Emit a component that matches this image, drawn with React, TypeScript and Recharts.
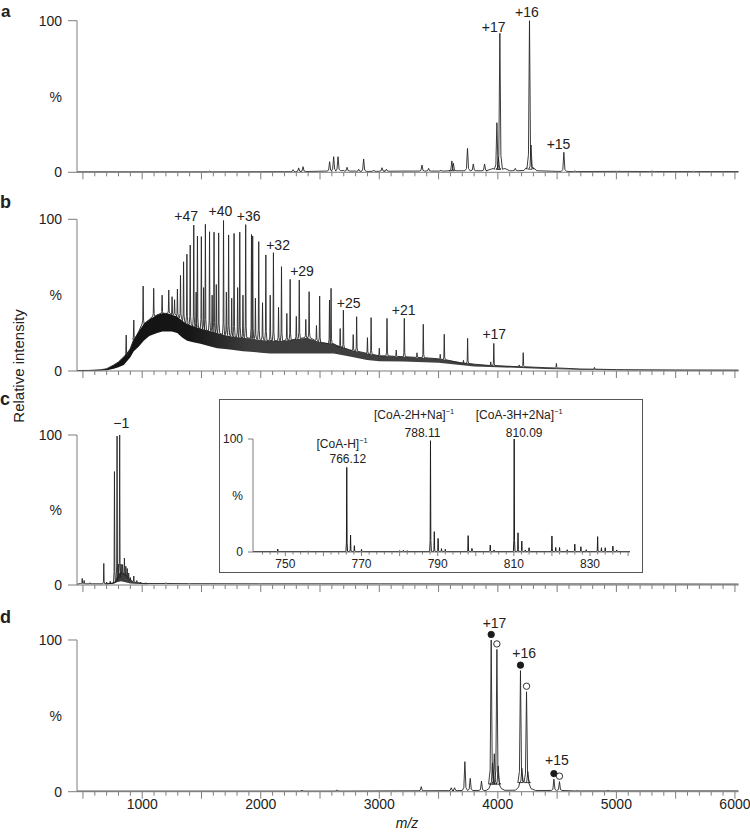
import React from 'react';
import { Area, ComposedChart, Line, ReferenceDot, Scatter, XAxis, YAxis } from 'recharts';

type Pt = [number, number];
type Pk = [number, number, number]; // m/z, apex %, local base %
type Lb = [number, number, string, string?]; // m/z, y %, text, superscript

const FONT = '"Liberation Sans", Arial, Helvetica, sans-serif';
const INK = '#1c1c1c';
const AXIS = '#7d7d7d';
const TEXT = '#222';

const MZ_MIN = 450;
const MZ_MAX = 6030;
const mzTicks = Array.from({ length: 56 }, (_, i) => 500 + i * 100);
const mzTickLabels = [1000, 2000, 3000, 4000, 5000, 6000];

const INSET_MIN = 741.5;
const INSET_MAX = 840.5;
const insetTicks = Array.from({ length: 49 }, (_, i) => 744 + i * 2);
const insetTickLabels = [750, 770, 790, 810, 830];

// ---- panel a
const baseA: Pt[] = [
  [450, 0.3], [1500, 0.3], [2200, 0.4], [2550, 0.8], [2700, 1.2], [2800, 0.8], [3200, 0.8],
  [3600, 1], [3900, 1], [3960, 2.5], [4060, 2.5], [4100, 1], [4220, 1.2], [4240, 3], [4300, 3],
  [4330, 1], [4500, 0.6], [5000, 0.6], [6030, 0.5],
];
const peaksA: Pk[] = [
  [1570, 0.9, 0.3], [2273, 1.7, 0.4], [2320, 2.9, 0.5], [2357, 3.7, 0.5], [2581, 7, 0.8],
  [2615, 10.3, 1], [2652, 10.3, 1], [2728, 3.3, 0.8], [2826, 2, 0.6], [2868, 8.8, 0.6],
  [2952, 1.5, 0.6], [3023, 3, 0.7], [3060, 2, 0.7], [3360, 4.8, 0.8], [3416, 2.6, 0.8],
  [3520, 1.3, 0.8], [3612, 7.5, 1], [3625, 6, 1], [3744, 15.8, 1], [3793, 5.5, 1], [3888, 5.5, 1],
  [3992, 32.7, 2], [4005, 10, 2], [4017, 91.7, 2], [4147, 2.6, 1], [4267, 100, 2], [4280, 18, 2],
  [4557, 13.2, 0.6], [4650, 0.9, 0.5], [5300, 0.8, 0.5], [5650, 0.7, 0.5],
];
const labelsA: Lb[] = [[3964, 96, '+17'], [4245, 105.5, '+16'], [4512, 18.7, '+15']];

// ---- panel b
const bandB: [number, number, number][] = [
  [450, 0, 0.3], [550, 0.1, 0.4], [650, 0.3, 0.8], [700, 0.5, 1.5], [760, 1.5, 4], [800, 2.5, 6],
  [845, 4, 9.4], [900, 9, 15], [929, 13, 21], [970, 16, 26], [1013, 20, 31], [1060, 23, 34],
  [1126, 25, 37], [1170, 26, 38], [1210, 26, 38], [1250, 26, 37], [1295, 25, 36], [1340, 22, 33],
  [1379, 20, 31], [1430, 19, 29.5], [1491, 18, 28], [1560, 16.5, 26.5], [1632, 15, 25],
  [1700, 14.5, 23.5], [1772, 13.8, 22.6], [1850, 13, 22], [1913, 12.7, 21.5], [2000, 12, 20.5],
  [2081, 11.6, 20], [2193, 11.6, 20], [2300, 11.5, 21], [2390, 11.6, 22], [2500, 11.6, 19],
  [2615, 11.6, 18], [2750, 9.5, 14], [2896, 7.3, 11.6], [3000, 6.5, 10], [3200, 6.2, 9.4],
  [3500, 5.5, 8], [3800, 3, 4.5], [4000, 2.5, 3.5], [4400, 1.3, 2.2], [4700, 0.8, 1.3],
  [5000, 0.5, 0.9], [5500, 0.4, 0.7], [6030, 0.3, 0.6],
];
const peaksB: Pk[] = [
  [865, 23.7, 10], [929, 33.6, 21], [1008, 56, 31], [1097, 54.5, 36], [1168, 50, 38],
  [1224, 53.4, 38], [1252, 49, 37], [1273, 47, 37], [1297, 54, 36], [1323, 63, 35], [1349, 72, 33],
  [1377, 77, 31.5], [1405, 83, 30.5], [1435, 96.2, 29.5], [1455, 52, 29], [1466, 89, 28.5],
  [1499, 88.6, 28], [1518, 55, 27.5], [1533, 96.7, 27], [1568, 91.8, 26.5], [1590, 50, 26],
  [1606, 91.5, 25.5], [1625, 57, 25], [1645, 91, 25], [1686, 99.2, 24], [1710, 52, 24],
  [1729, 89.7, 23.5], [1755, 48, 23], [1775, 90.7, 22.6], [1805, 55, 22.4], [1823, 91.5, 22.2],
  [1850, 50, 22], [1873, 96.5, 22], [1922, 90, 21.5], [1932, 89, 21.5], [1955, 48, 21.3],
  [1983, 85.3, 21], [2015, 45, 20.7], [2043, 76.5, 20.3], [2080, 50, 20], [2107, 78, 20],
  [2150, 42, 20], [2175, 68.8, 20], [2220, 38, 20.3], [2248, 60.4, 20.5], [2300, 36, 21],
  [2325, 60, 21.5], [2380, 34, 22], [2408, 52.3, 22], [2470, 30, 20], [2497, 49.4, 19],
  [2580, 46.8, 18], [2593, 54.5, 18], [2670, 28, 15.5], [2697, 40.2, 15], [2780, 24, 13.5],
  [2809, 35.8, 13], [2900, 22, 11.5], [2931, 35.2, 11], [3000, 15, 10], [3065, 34.7, 10],
  [3143, 13.8, 9.6], [3211, 34.7, 9.4], [3318, 12, 9], [3371, 30.8, 8.8], [3514, 11, 7.8],
  [3548, 24.2, 7.5], [3710, 7, 5], [3745, 21.5, 5], [3940, 6, 3.6], [3966, 18.2, 3.6],
  [4180, 4, 2.8], [4214, 12.1, 2.8], [4494, 5, 2], [4815, 2.4, 1.2], [5186, 1.3, 0.8],
];
const labelsB: Lb[] = [
  [1371, 102.2, '+47'], [1660, 105.7, '+40'], [1898, 102.2, '+36'], [2146, 82.9, '+32'],
  [2348, 66.1, '+29'], [2741, 45, '+25'], [3205, 40.2, '+21'], [3970, 24.4, '+17'],
];

// ---- panel c
const baseC: Pt[] = [
  [450, 0.5], [480, 1], [700, 0.8], [1000, 1], [2000, 0.8], [3000, 0.8], [4000, 0.7], [5000, 0.7], [6030, 0.6],
];
const bandC: [number, number, number][] = [
  [700, 0.5, 1], [760, 0.8, 1.6], [775, 1.5, 3], [795, 2, 7], [820, 2.5, 8.5], [850, 2, 8],
  [875, 1.5, 6], [900, 1, 3.5], [930, 0.8, 2.2], [980, 0.6, 1.5], [1050, 0.5, 1.2],
];
const peaksC: Pk[] = [
  [494, 4.4, 0.8], [510, 3, 0.8], [560, 1.5, 0.8], [676, 14.4, 0.8], [700, 2, 0.8], [730, 2.5, 1],
  [766, 75.6, 1.5], [788, 99.3, 3], [798, 14, 5], [810, 100, 5], [822, 14, 7], [834, 13.6, 7.5],
  [850, 18, 7], [862, 12.5, 6], [874, 11, 5], [886, 8, 4], [900, 5, 3], [929, 6, 2.2],
  [955, 3, 1.5], [985, 2, 1.2], [1030, 1.5, 1], [1200, 1.5, 1], [1400, 1.3, 0.9],
];
const labelsC: Lb[] = [[823, 107.8, '\u22121']];

// ---- inset of c
const baseInset: Pt[] = [[INSET_MIN, 0.4], [INSET_MAX, 0.4]];
const peaksInset: Pk[] = [
  [748, 2.6, 0.4], [756, 1, 0.4], [766.12, 74.9, 0.4], [767.12, 15, 0.4], [768.12, 5.6, 0.4],
  [770, 2.4, 0.4], [780, 1.2, 0.4], [781, 1.5, 0.4], [782, 1.2, 0.4], [788.11, 98.5, 0.4],
  [789.11, 18, 0.4], [790.11, 12, 0.4], [791, 3, 0.4], [792, 2.4, 0.4], [798, 14.5, 0.4],
  [799, 3.2, 0.4], [803.8, 6.2, 0.4], [804.8, 1.8, 0.4], [810.09, 100, 0.4], [811.09, 17, 0.4],
  [812.09, 9.7, 0.4], [813, 1.8, 0.4], [814, 3.8, 0.4], [820, 14.2, 0.4], [821, 4, 0.4],
  [822, 4, 0.4], [824, 2, 0.4], [826, 7, 0.4], [827.6, 4.7, 0.4], [829, 2, 0.4], [832, 13.6, 0.4],
  [833, 3.8, 0.4], [834, 3.8, 0.4], [836, 5.3, 0.4], [837, 1.8, 0.4],
];
const labelsInset: Lb[] = [
  [764.9, 96.2, '[CoA-H]', '\u22121'], [766.4, 82.9, '766.12'],
  [783.8, 121.2, '[CoA-2H+Na]', '\u22121'], [786, 105.6, '788.11'],
  [811.4, 121.2, '[CoA-3H+2Na]', '\u22121'], [812.7, 105.6, '810.09'],
];

// ---- panel d
const baseD: Pt[] = [
  [450, 0.4], [2000, 0.4], [3000, 0.5], [3900, 0.8], [3925, 2], [3940, 5], [4010, 5], [4030, 2],
  [4060, 0.9], [4150, 1], [4175, 3], [4185, 6], [4260, 6], [4280, 2], [4320, 0.8], [6030, 0.5],
];
const peaksD: Pk[] = [
  [2348, 1, 0.4], [2643, 1.2, 0.4], [3354, 3.3, 0.6], [3607, 2.6, 0.7], [3635, 2.6, 0.7],
  [3722, 19.8, 0.8], [3767, 8.8, 0.8], [3862, 7, 0.8], [3944, 100, 5], [3955, 19, 5],
  [3970, 25, 5], [3992, 93.8, 5], [4003, 17, 5], [4191, 79.8, 6], [4203, 15.4, 6],
  [4242, 65.9, 6], [4253, 13.2, 6], [4473, 8.3, 0.8], [4520, 6.6, 0.8], [4670, 0.8, 0.5],
  [4929, 0.8, 0.5],
];
const filledD: Pt[] = [[3944, 100], [4191, 79.8], [4473, 8.3]];
const openD: Pt[] = [[3992, 93.8], [4242, 65.9], [4520, 6.6]];
const labelsD: Lb[] = [[3972, 111.4, '+17'], [4222, 91.6, '+16'], [4498, 20.9, '+15']];

// line through baseline points and peak shapes (shape width w in m/z is a drawing style)
const spectrum = (base: Pt[], peaks: Pk[], w: number) => {
  const segs: { at: number; pts: { x: number; y: number }[] }[] = [];
  base.forEach(([x, y]) => segs.push({ at: x, pts: [{ x, y }] }));
  peaks.forEach(([m, h, b]) => {
    const f = b + (h - b) * 0.1;
    segs.push({
      at: m,
      pts: [
        { x: m - w, y: b }, { x: m - w * 0.4, y: f }, { x: m, y: h },
        { x: m + w * 0.4, y: f }, { x: m + w, y: b },
      ],
    });
  });
  segs.sort((p, q) => p.at - q.at);
  return segs.flatMap((s) => s.pts);
};
const toBand = (rows: [number, number, number][]) => rows.map(([x, lo, hi]) => ({ x, r: [lo, hi] }));
const toPts = (rows: Pt[]) => rows.map(([x, y]) => ({ x, y }));

const MzTick = (p: any) => {
  const v = p.payload.value;
  const major = v % 500 === 0;
  return (
    <g>
      <line x1={p.x} x2={p.x} y1={p.y} y2={p.y + (major ? 7 : 4)} stroke={AXIS} />
      {p.showLabels && mzTickLabels.includes(v) && (
        <text x={p.x} y={p.y + 17} textAnchor="middle" fontSize={14} fill={TEXT} fontFamily={FONT}>{v}</text>
      )}
    </g>
  );
};

const InsetTick = (p: any) => {
  const v = p.payload.value;
  const major = v % 10 === 0;
  return (
    <g>
      <line x1={p.x} x2={p.x} y1={p.y} y2={p.y + (major ? 4 : 2.5)} stroke={AXIS} />
      {insetTickLabels.includes(v) && (
        <text x={p.x} y={p.y + 15.5} textAnchor="middle" fontSize={12} fill={TEXT} fontFamily={FONT}>{v}</text>
      )}
    </g>
  );
};

const PctTick = (p: any) => {
  const v = p.payload.value;
  return (
    <g>
      {v !== 50 && <line x1={p.x - p.len} x2={p.x} y1={p.y} y2={p.y} stroke={AXIS} />}
      <text x={p.x - p.gap} y={p.y} dy="0.36em" textAnchor="end" fontSize={p.size} fill={TEXT} fontFamily={FONT}>
        {v === 50 ? '%' : v}
      </text>
    </g>
  );
};

const peakLabel = (text: string, sup: string | undefined, size: number) => (props: any) => {
  const vb = props.viewBox || {};
  const cx = (vb.x || 0) + (vb.width || 0) / 2;
  const cy = (vb.y || 0) + (vb.height || 0) / 2;
  return (
    <text x={cx} y={cy} dy="0.36em" textAnchor="middle" fontSize={size} fill={TEXT} fontFamily={FONT}>
      <tspan>{text}</tspan>
      {sup && <tspan dy={-5} fontSize={size * 0.62}>{sup}</tspan>}
    </text>
  );
};

const marker = (filled: boolean) => (props: any) => (
  <circle cx={props.cx} cy={props.cy - 5.5} r={3.2} fill={filled ? INK : '#fff'} stroke={INK} strokeWidth={0.9} />
);

type PanelProps = {
  id: string;
  top: number;
  plotTop: number;
  plotBottom: number;
  line: { x: number; y: number }[];
  band?: { x: number; r: number[] }[];
  labels: Lb[];
  filled?: Pt[];
  open?: Pt[];
  showLabels?: boolean;
};

function MainPanel({ id, top, plotTop, plotBottom, line, band, labels, filled, open, showLabels }: PanelProps) {
  const axisH = showLabels ? 40 : 14;
  const height = plotBottom - top + axisH;
  return (
    <div style={{ position: 'absolute', left: 0, top }}>
      <ComposedChart width={750} height={height} margin={{ top: plotTop - top, right: 11.5, bottom: 0, left: 0 }}>
        <defs>
          <linearGradient id={`band-${id}`} x1="0" y1="0" x2="1" y2="0">
            <stop offset="0%" stopColor="#111" />
            <stop offset="17%" stopColor="#161616" />
            <stop offset="26%" stopColor="#3c3c3c" />
            <stop offset="100%" stopColor="#4a4a4a" />
          </linearGradient>
        </defs>
        <XAxis
          type="number"
          dataKey="x"
          domain={[MZ_MIN, MZ_MAX]}
          ticks={mzTicks}
          interval={0}
          height={axisH}
          tickSize={0}
          tickMargin={0}
          tickLine={false}
          axisLine={{ stroke: AXIS }}
          tick={(p: any) => <MzTick {...p} showLabels={showLabels} />}
        />
        <YAxis
          type="number"
          domain={[0, 100]}
          ticks={[0, 50, 100]}
          interval={0}
          width={77}
          tickSize={0}
          tickMargin={0}
          tickLine={false}
          axisLine={{ stroke: AXIS }}
          tick={(p: any) => <PctTick {...p} len={9} gap={15} size={14} />}
        />
        {band && (
          <Area data={band} dataKey="r" type="linear" stroke="none" fill={`url(#band-${id})`} fillOpacity={1} isAnimationActive={false} />
        )}
        <Line data={line} dataKey="y" type="linear" stroke="#262626" strokeWidth={0.9} dot={false} activeDot={false} isAnimationActive={false} />
        {filled && <Scatter data={toPts(filled)} dataKey="y" shape={marker(true)} isAnimationActive={false} />}
        {open && <Scatter data={toPts(open)} dataKey="y" shape={marker(false)} isAnimationActive={false} />}
        {labels.map(([x, y, text, sup]) => (
          <ReferenceDot key={text + x} x={x} y={y} r={0} fill="none" stroke="none" ifOverflow="visible" label={peakLabel(text, sup, 14)} />
        ))}
      </ComposedChart>
    </div>
  );
}

function InsetPanel() {
  const line = spectrum(baseInset, peaksInset, 0.22);
  return (
    <div style={{ position: 'absolute', left: 219, top: 399, width: 424, height: 174 }}>
      <div style={{ position: 'absolute', inset: 0, border: '1px solid #555', boxSizing: 'border-box', background: '#fff' }} />
      <div style={{ position: 'absolute', left: 0, top: 0 }}>
        <ComposedChart width={424} height={174} margin={{ top: 40, right: 13, bottom: 0, left: 0 }}>
          <XAxis
            type="number"
            dataKey="x"
            domain={[INSET_MIN, INSET_MAX]}
            ticks={insetTicks}
            interval={0}
            height={21}
            tickSize={0}
            tickMargin={0}
            tickLine={false}
            axisLine={{ stroke: AXIS }}
            tick={(p: any) => <InsetTick {...p} />}
          />
          <YAxis
            type="number"
            domain={[0, 100]}
            ticks={[0, 50, 100]}
            interval={0}
            width={34}
            tickSize={0}
            tickMargin={0}
            tickLine={false}
            axisLine={{ stroke: AXIS }}
            tick={(p: any) => <PctTick {...p} len={5} gap={10} size={12} />}
          />
          <Line data={line} dataKey="y" type="linear" stroke={INK} strokeWidth={1} dot={false} activeDot={false} isAnimationActive={false} />
          {labelsInset.map(([x, y, text, sup]) => (
            <ReferenceDot key={text + x} x={x} y={y} r={0} fill="none" stroke="none" ifOverflow="visible" label={peakLabel(text, sup, 12)} />
          ))}
        </ComposedChart>
      </div>
    </div>
  );
}

export default function App() {
  const lineA = spectrum(baseA, peaksA, 22);
  const lineB = spectrum(bandB.map(([x, , hi]) => [x, hi] as Pt), peaksB, 9);
  const lineC = spectrum(baseC, peaksC, 8);
  const lineD = spectrum(baseD, peaksD, 22);
  return (
    <div style={{ position: 'absolute', left: 0, top: 0, width: 750, height: 838, background: '#fff', fontFamily: FONT }}>
      <svg width={750} height={838} style={{ position: 'absolute', left: 0, top: 0 }}>
        <g fontFamily={FONT} fill={TEXT}>
          <text x={1} y={17} fontSize={17} fontWeight="bold">a</text>
          <text x={0} y={208} fontSize={18} fontWeight="bold">b</text>
          <text x={0} y={405} fontSize={18} fontWeight="bold">c</text>
          <text x={0} y={623} fontSize={18} fontWeight="bold">d</text>
          <text x={18} y={366} fontSize={15} textAnchor="middle" dominantBaseline="central" transform="rotate(-90 18 366)">
            Relative intensity
          </text>
          <text x={407} y={828} fontSize={14} fontStyle="italic" textAnchor="middle">m/z</text>
        </g>
      </svg>
      <MainPanel id="a" top={0} plotTop={20.7} plotBottom={172.3} line={lineA} labels={labelsA} />
      <MainPanel id="b" top={190} plotTop={219.3} plotBottom={371} line={lineB} band={toBand(bandB)} labels={labelsB} />
      <MainPanel id="c" top={380} plotTop={435} plotBottom={585} line={lineC} band={toBand(bandC)} labels={labelsC} />
      <InsetPanel />
      <MainPanel id="d" top={600} plotTop={640} plotBottom={791.7} line={lineD} labels={labelsD} filled={filledD} open={openD} showLabels />
    </div>
  );
}
